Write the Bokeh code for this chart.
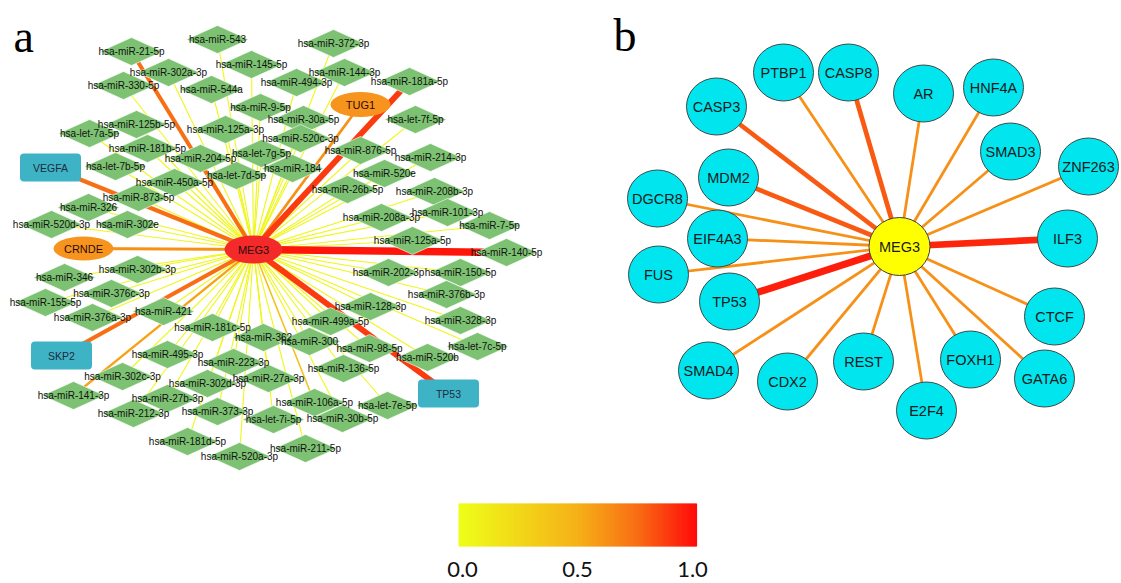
import numpy as np
from bokeh.plotting import figure
from bokeh.models import Range1d
from bokeh.core.properties import value
from bokeh.embed import file_html
from bokeh.resources import INLINE

# ---------------- data: panel a (miRNA network around MEG3) ----------------
mir_names = [
    "hsa-miR-543", "hsa-miR-372-3p", "hsa-miR-21-5p", "hsa-miR-145-5p", "hsa-miR-144-3p",
    "hsa-miR-302a-3p", "hsa-miR-330-5p", "hsa-miR-544a", "hsa-miR-494-3p", "hsa-miR-181a-5p",
    "hsa-miR-9-5p", "hsa-let-7f-5p", "hsa-miR-30a-5p", "hsa-miR-125b-5p", "hsa-let-7a-5p",
    "hsa-miR-125a-3p", "hsa-miR-520c-3p", "hsa-miR-181b-5p", "hsa-miR-876-5p", "hsa-let-7g-5p",
    "hsa-miR-214-3p", "hsa-miR-204-5p", "hsa-miR-184", "hsa-let-7b-5p", "hsa-let-7d-5p",
    "hsa-miR-520e", "hsa-miR-450a-5p", "hsa-miR-26b-5p", "hsa-miR-208b-3p", "hsa-miR-873-5p",
    "hsa-miR-326", "hsa-miR-208a-3p", "hsa-miR-101-3p", "hsa-miR-520d-3p", "hsa-miR-302e",
    "hsa-miR-7-5p", "hsa-miR-125a-5p", "hsa-miR-140-5p", "hsa-miR-302b-3p", "hsa-miR-346",
    "hsa-miR-202-3p", "hsa-miR-150-5p", "hsa-miR-376c-3p", "hsa-miR-376b-3p", "hsa-miR-155-5p",
    "hsa-miR-128-3p", "hsa-miR-421", "hsa-miR-376a-3p", "hsa-miR-328-3p", "hsa-miR-499a-5p",
    "hsa-miR-181c-5p", "hsa-miR-362", "hsa-miR-300", "hsa-let-7c-5p", "hsa-miR-98-5p",
    "hsa-miR-495-3p", "hsa-miR-520b", "hsa-miR-223-3p", "hsa-miR-136-5p", "hsa-miR-302c-3p",
    "hsa-miR-27a-3p", "hsa-miR-302d-3p", "hsa-miR-141-3p", "hsa-miR-27b-3p", "hsa-miR-106a-5p",
    "hsa-let-7e-5p", "hsa-miR-212-3p", "hsa-miR-373-3p", "hsa-let-7i-5p", "hsa-miR-30b-5p",
    "hsa-miR-181d-5p", "hsa-miR-211-5p", "hsa-miR-520a-3p",
]
mir_x = [
    217, 333, 131, 251, 344,
    168, 123, 211, 296, 409,
    260, 415, 303, 136, 89,
    225, 300, 147, 360, 261,
    430, 200, 292, 115, 236,
    384, 174, 347, 434, 138,
    88, 381, 447, 51, 127,
    489, 412, 506, 137, 64,
    388, 460, 111, 446, 45,
    370, 163, 92, 460, 330,
    212, 263, 309, 477, 369,
    167, 427, 233, 343, 122,
    268, 207, 73, 167, 314,
    387, 133, 217, 273, 342,
    187, 305, 239,
]
mir_y = [
    39, 43, 51, 64, 72,
    72, 85, 89, 82, 81,
    107, 119, 119, 124, 133,
    129, 138, 148, 150, 153,
    157, 158, 168, 166, 175,
    173, 182, 189, 191, 197,
    207, 217, 212, 224, 224,
    225, 240, 252, 269, 277,
    272, 272, 293, 294, 302,
    306, 311, 317, 320, 321,
    327, 337, 341, 346, 348,
    354, 357, 362, 368, 376,
    378, 383, 395, 398, 402,
    405, 413, 411, 419, 418,
    441, 448, 456,
]
# co-expression weight of each miRNA with MEG3 (0..1)
mir_weight = [0.05] * len(mir_names)
for name, w in [("hsa-miR-21-5p", 0.75), ("hsa-miR-181a-5p", 0.88), ("hsa-miR-140-5p", 0.97),
                ("hsa-miR-141-3p", 0.55), ("hsa-miR-106a-5p", 0.40)]:
    mir_weight[mir_names.index(name)] = w

lnc_names = ["MEG3", "TUG1", "CRNDE"]
lnc_x = [253, 360, 83]
lnc_y = [249, 104, 248]
lnc_weight = [1.0, 0.62, 0.62]

gene_a_names = ["VEGFA", "SKP2", "TP53"]
gene_a_x = [50, 61, 448]
gene_a_y = [167, 355, 393]
gene_a_weight = [0.75, 0.75, 0.88]

# ---------------- data: panel b (protein network around MEG3) ----------------
b_hub = "MEG3"
b_hub_x, b_hub_y = 899, 246
b_names = ["PTBP1", "CASP8", "AR", "HNF4A", "CASP3", "SMAD3", "ZNF263", "MDM2", "DGCR8",
           "EIF4A3", "ILF3", "FUS", "TP53", "CTCF", "SMAD4", "CDX2", "REST", "FOXH1",
           "GATA6", "E2F4"]
b_x = [783, 848, 923, 993, 716, 1010, 1088, 728, 657, 717, 1067, 658, 729, 1054, 708, 787,
       863, 970, 1044, 926]
b_y = [72, 72, 93, 87, 106, 151, 166, 177, 198, 238, 238, 274, 301, 316, 370, 381, 361,
       359, 378, 410]
b_weight = [0.62, 0.80, 0.62, 0.62, 0.80, 0.62, 0.62, 0.80, 0.62, 0.62, 0.93, 0.62, 0.95,
            0.62, 0.62, 0.62, 0.62, 0.62, 0.62, 0.62]

cbar_ticks = [0.0, 0.5, 1.0]
cbar_labels = ["0.0", "0.5", "1.0"]

# ---------------- colour scale ----------------
stops = [(0.0, (238, 255, 25)), (0.5, (246, 176, 24)), (0.75, (248, 110, 20)), (1.0, (255, 10, 10))]


def heat(w):
    w = min(max(w, 0.0), 1.0)
    for (a, ca), (b, cb) in zip(stops[:-1], stops[1:]):
        if w <= b:
            t = (w - a) / (b - a)
            c = [round(ca[k] + (cb[k] - ca[k]) * t) for k in range(3)]
            return "#%02x%02x%02x" % tuple(c)
    return "#%02x%02x%02x" % stops[-1][1]


def lw(w):
    return 1.1 + 7.0 * w ** 3


p = figure(width=1121, height=583, x_range=Range1d(0, 1121), y_range=Range1d(583, 0),
           output_backend="svg", toolbar_location=None, min_border=0,
           x_axis_type=None, y_axis_type=None)
p.grid.visible = False
p.outline_line_color = None
p.background_fill_color = "white"
p.border_fill_color = "white"

SANS = value("Liberation Sans")

# ---- panel a edges ----
hub_x, hub_y = lnc_x[0], lnc_y[0]
ex = mir_x + lnc_x[1:] + gene_a_x
ey = mir_y + lnc_y[1:] + gene_a_y
ew = mir_weight + lnc_weight[1:] + gene_a_weight
order = np.argsort(ew, kind="stable")
p.segment(x0=[hub_x] * len(order), y0=[hub_y] * len(order),
          x1=[ex[i] for i in order], y1=[ey[i] for i in order],
          line_color=[heat(ew[i]) for i in order],
          line_width=[lw(ew[i]) for i in order])

# ---- panel a miRNA diamonds ----
DW, DH = 31, 14
p.patches(xs=[[x - DW, x, x + DW, x] for x in mir_x],
          ys=[[y, y - DH, y, y + DH] for y in mir_y],
          fill_color="#7dc272", line_color="#ffffff", line_width=0.6)

# ---- lncRNA ellipses ----
p.ellipse(x=lnc_x, y=lnc_y, width=[58, 60, 60], height=[28, 25, 24],
          fill_color=["#f42a2a", "#f7941d", "#f7941d"], line_color=None)
# ---- gene rectangles (rounded) ----
p.rect(x=gene_a_x, y=gene_a_y, width=61, height=28, fill_color="#3fb3c6",
       line_color=None, border_radius=4)

p.text(x=mir_x, y=mir_y, text=mir_names, text_font=SANS, text_font_size="10px",
       text_color="#111111", text_align="center", text_baseline="middle")
p.text(x=lnc_x, y=lnc_y, text=lnc_names, text_font=SANS, text_font_size="11px",
       text_color="#2a0a0a", text_align="center", text_baseline="middle")
p.text(x=gene_a_x, y=gene_a_y, text=gene_a_names, text_font=SANS, text_font_size="10.5px",
       text_color="#1d2b3c", text_align="center", text_baseline="middle")

# ---- panel b ----
order_b = np.argsort(b_weight, kind="stable")
p.segment(x0=[b_hub_x] * len(b_names), y0=[b_hub_y] * len(b_names),
          x1=[b_x[i] for i in order_b], y1=[b_y[i] for i in order_b],
          line_color=[heat(b_weight[i]) for i in order_b],
          line_width=[lw(b_weight[i]) for i in order_b])
p.ellipse(x=b_x, y=b_y, width=60, height=57, fill_color="#00e5ee",
          line_color="#3c4a4a", line_width=1)
p.ellipse(x=[b_hub_x], y=[b_hub_y], width=61, height=58, fill_color="#ffff00",
          line_color="#3c3c3c", line_width=1)
p.text(x=b_x + [b_hub_x], y=b_y + [b_hub_y], text=b_names + [b_hub], text_font=SANS,
       text_font_size="14.5px", text_color="#1a1a1a", text_align="center",
       text_baseline="middle")

# ---- panel letters ----
p.text(x=[13, 613], y=[36, 35], text=["a", "b"], text_font=value("Liberation Serif"),
       text_font_size="46px", text_color="#000000", text_align="left",
       text_baseline="alphabetic")

# ---- colour bar ----
CB_L, CB_R, CB_T, CB_B = 458, 696, 503, 546
n = 238
edges = np.linspace(0, 1, n + 1)
cols = [heat((edges[i] + edges[i + 1]) / 2) for i in range(n)]
p.quad(left=CB_L + edges[:-1] * (CB_R - CB_L), right=CB_L + edges[1:] * (CB_R - CB_L) + 0.6,
       top=[CB_T] * n, bottom=[CB_B] * n, fill_color=cols, line_color=None)
p.text(x=[CB_L + 4 + t * (CB_R - CB_L - 8) for t in cbar_ticks], y=[569] * 3,
       text=cbar_labels, text_font=value("Lato"), text_font_size="22px",
       text_color="#111111", text_align="center", text_baseline="middle")

open("out.html", "w").write(file_html(p, INLINE))
